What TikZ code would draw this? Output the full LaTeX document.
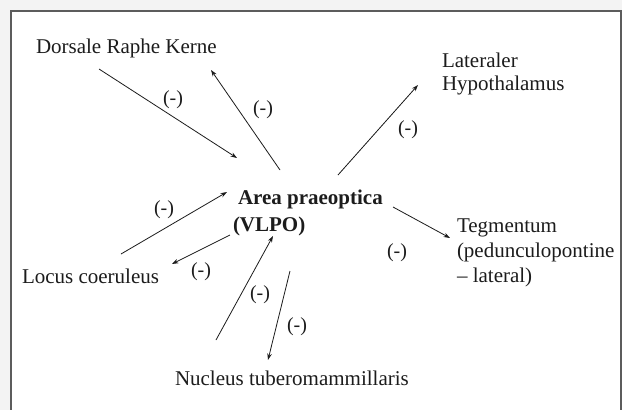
\documentclass[tikz,border=0pt]{standalone}
\usepackage{fontspec}
\setmainfont{Liberation Serif}
\usetikzlibrary{arrows.meta}
\definecolor{bgout}{HTML}{F3F3F3}
\definecolor{frame}{HTML}{5C5C5C}
\definecolor{ink}{HTML}{1C1C1C}
\begin{document}
\begin{tikzpicture}[x=1pt,y=-1pt,
  lbl/.style={inner sep=0pt, outer sep=0pt, text=ink, font=\fontsize{21}{24}\selectfont, anchor=base west, align=left},
  sgn/.style={inner sep=0pt, text=ink, font=\fontsize{20}{24}\selectfont},
  con/.style={draw=ink, line width=0.8pt, -{Stealth[length=6.5pt,width=4.5pt]}}]
\useasboundingbox (0,0) rectangle (622,410);
\fill[bgout] (0,0) rectangle (622,410);
\filldraw[fill=white, draw=frame, line width=1.6pt] (11,11) rectangle (621,420);

\node[lbl] (drk) at (36,53) {Dorsale Raphe Kerne};
\node[lbl, font=\fontsize{21}{23}\selectfont] (lh) at (442,90) {Lateraler\\Hypothalamus};
\node[lbl, font=\bfseries\fontsize{21}{27}\selectfont] (apo) at (233,231) {\hspace*{5pt}Area praeoptica\\(VLPO)};
\node[lbl, font=\fontsize{21}{25}\selectfont] (teg) at (457,282) {Tegmentum\\(pedunculopontine\\– lateral)};
\node[lbl] (lc) at (22,283) {Locus coeruleus};
\node[lbl] (nt) at (175,385) {Nucleus tuberomammillaris};

\coordinate (a1s) at (99,69);   \coordinate (a1e) at (237,158);
\coordinate (a2s) at (280,170); \coordinate (a2e) at (211,70);
\coordinate (a3s) at (338,175); \coordinate (a3e) at (418,85);
\coordinate (a4s) at (393,207); \coordinate (a4e) at (450,238);
\coordinate (a5s) at (121,254); \coordinate (a5e) at (227,192);
\coordinate (a6s) at (230,235); \coordinate (a6e) at (172,264);
\coordinate (a7s) at (216,340); \coordinate (a7e) at (273,236);
\coordinate (a8s) at (290,271); \coordinate (a8e) at (268,360);

\draw[con] (a1s) -- (a1e);
\draw[con] (a2s) -- (a2e);
\draw[con] (a3s) -- (a3e);
\draw[con] (a4s) -- (a4e);
\draw[con] (a5s) -- (a5e);
\draw[con] (a6s) -- (a6e);
\draw[con] (a7s) -- (a7e);
\draw[con] (a8s) -- (a8e);

\node[sgn] (s1) at (173,100) {(-)};
\node[sgn] (s2) at (263,110) {(-)};
\node[sgn] (s3) at (408,130) {(-)};
\node[sgn] (s4) at (397,253) {(-)};
\node[sgn] (s5) at (164,210) {(-)};
\node[sgn] (s6) at (201,272) {(-)};
\node[sgn] (s7) at (260,295) {(-)};
\node[sgn] (s8) at (297,327) {(-)};
\end{tikzpicture}
\end{document}
